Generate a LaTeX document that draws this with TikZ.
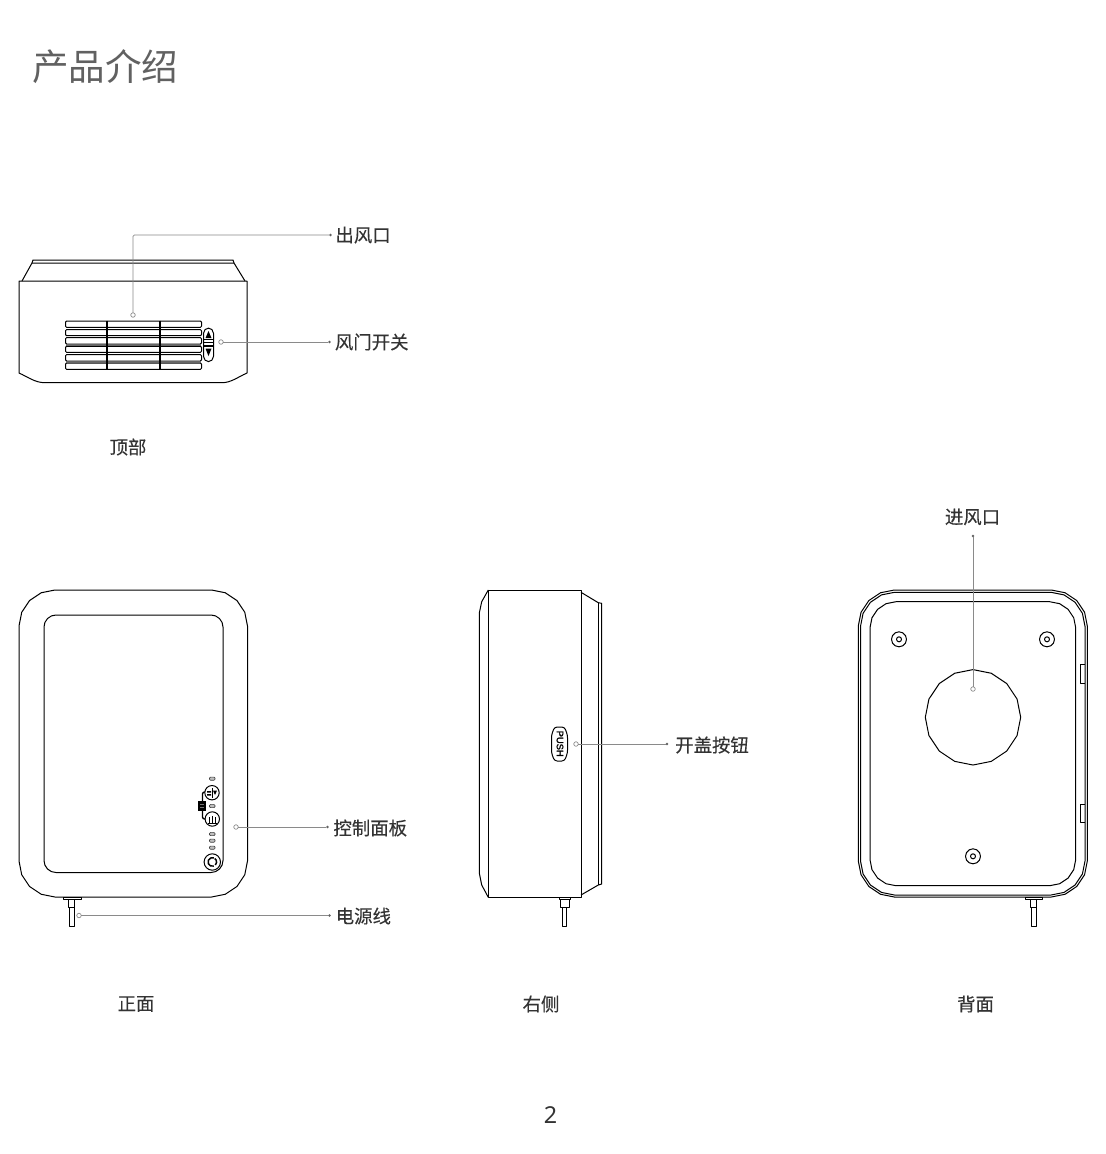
\documentclass[tikz,border=0pt]{standalone}
\usepackage{fontspec}
\setmainfont{Noto Sans}
\newfontfamily\cjk{Noto Sans CJK SC}
\newfontfamily\cjklab[FakeBold=0.25]{Noto Sans CJK SC}
\newfontfamily\pushfont[FakeBold=2]{Liberation Sans}
\definecolor{leadc}{HTML}{8A8A8A}
\definecolor{txt}{HTML}{333333}
\tikzset{
  part/.style={draw=black,line width=0.75pt,line join=round},
  leader/.style={draw=leadc,line width=0.6pt},
  ring/.style={circle,draw=leadc,fill=white,line width=0.5pt,minimum size=3.4pt,inner sep=0pt,outer sep=0pt},
  tipdot/.style={circle,fill=leadc!70!black,minimum size=2.2pt,inner sep=0pt,outer sep=0pt},
  lab/.style={font=\cjklab\fontsize{13.8}{16}\selectfont,text=txt,inner sep=0pt},
  vent/.style={part,rounded corners=0.8pt},
  led/.style={draw=black!75,fill=black!25,line width=0.5pt,rounded corners=0.8pt},
  knob/.style={draw=black,fill=white,line width=0.75pt}
}
\newcommand{\cable}[7]{%
  \draw[part] (#1,#7) rectangle (#2,#7+2.5);
  \draw[part] (#3,#7+2.5) rectangle (#4,#7+10);
  \draw[part] (#5,#7+10) -- (#5,926) -- (#6,926) -- (#6,#7+10);
}
\newcommand{\screw}[2]{%
  \draw[part] plot[samples=13,domain=0:360] ({#1+7.5*cos(\x)},{#2+7.5*sin(\x)});
  \draw[part] (#1,#2) circle (2.5);
}
% faceted rounded rectangle: x1 y1 x2 y2 r
\newcommand{\facet}[5]{%
  \draw[part] ({#1+#5},#2) -- ({#3-#5},#2)
   -- ({#3-#5+#5*sin(22.5)},{#2+#5-#5*cos(22.5)})
   -- ({#3-#5+#5*sin(45)},{#2+#5-#5*cos(45)})
   -- ({#3-#5+#5*sin(67.5)},{#2+#5-#5*cos(67.5)})
   -- (#3,{#2+#5}) -- (#3,{#4-#5})
   -- ({#3-#5+#5*sin(67.5)},{#4-#5+#5*cos(67.5)})
   -- ({#3-#5+#5*sin(45)},{#4-#5+#5*cos(45)})
   -- ({#3-#5+#5*sin(22.5)},{#4-#5+#5*cos(22.5)})
   -- ({#3-#5},#4) -- ({#1+#5},#4)
   -- ({#1+#5-#5*sin(22.5)},{#4-#5+#5*cos(22.5)})
   -- ({#1+#5-#5*sin(45)},{#4-#5+#5*cos(45)})
   -- ({#1+#5-#5*sin(67.5)},{#4-#5+#5*cos(67.5)})
   -- (#1,{#4-#5}) -- (#1,{#2+#5})
   -- ({#1+#5-#5*sin(67.5)},{#2+#5-#5*cos(67.5)})
   -- ({#1+#5-#5*sin(45)},{#2+#5-#5*cos(45)})
   -- ({#1+#5-#5*sin(22.5)},{#2+#5-#5*cos(22.5)})
   -- cycle;
}
\begin{document}
\begin{tikzpicture}[x=0.75pt,y=-0.75pt]
\useasboundingbox (0,0) rectangle (1106,1154);
\fill[white] (0,0) rectangle (1106,1154);

% ---- title and page number
\node[anchor=west,inner sep=0pt,font=\cjk\fontsize{27.4}{30}\selectfont,text=black!62] (title) at (32,67) {产品介绍};
\node[font=\fontsize{17.5}{20}\selectfont,text=txt,inner sep=0pt] (page) at (550.5,1115.5) {2};

% ---- top view
\draw[part] (19,281) -- (247,281) -- (247,373) .. controls (238,377) and (231,382.7) .. (222,382.7) -- (45,382.7) .. controls (35,382.7) and (28,377) .. (19,373) -- cycle;
\draw[part] (22,281) -- (32,263) -- (234,263) -- (245,281);
\draw[part] (32,263) -- (33,260) -- (233,260) -- (234,263);
\foreach \a/\b in {321/327.3,329.7/335.7,337.7/344,346.3/352.3,354.7/361,363/369.3}
  \draw[vent] (65.5,\a) rectangle (201.5,\b);
\draw[black!60,line width=0.9pt] (66,345) -- (201,345) (66,362) -- (201,362);
\draw[black,line width=1.3pt] (106.7,320.5) -- (106.7,369.8) (160,320.5) -- (160,369.8);
\draw[part,rounded corners=4pt] (203.5,328) rectangle (213.5,361.7);
\fill[black] (208.5,331) -- (205.5,338) -- (211.5,338) -- cycle;
\fill[black] (208.5,356) -- (205.5,348.5) -- (211.5,348.5) -- cycle;
\draw[black,line width=0.9pt] (204,339.5) -- (213,339.5) (204,342.7) -- (213,342.7) (204,346) -- (213,346);

% ---- front view
\facet{19}{590}{247.5}{897}{36}
\facet{44}{615}{223}{872.5}{12}
\cable{63.5}{81.5}{68.3}{74.7}{69.5}{74.3}{897}
% panel
\foreach \y in {778.7,806,834,840.7,847.7}
  \draw[led] (209.5,\y-1.6) rectangle (215,\y+1.6);
\draw[black,line width=1pt,rounded corners=1.5pt] (206,792) -- (202.5,792) -- (202.5,819) -- (206,819);
\fill[black] (198.3,800.7) rectangle (205.5,810.7);
\draw[black!55,line width=0.4pt] (200,804) -- (204,804) (200,807.5) -- (204,807.5);
\draw[knob] (212,792.7) circle (7.2);
\draw[knob] (212.3,819) circle (7.2);
\draw[black,line width=0.7pt] (212,788) -- (212,797.5);
\fill[black] (213,790.5) -- (217,790.5) -- (215,795) -- cycle;
\fill[black] (207.2,791) rectangle (211,792.5) (207.2,794) rectangle (211,795.5);
\draw[black,line width=0.7pt] (209.4,823) -- (209.4,816.5) (212.3,823) -- (212.3,815.5) (215.2,823) -- (215.2,816.5) (208,823.2) -- (216.6,823.2);
\draw[knob] (212.3,862) circle (8.2);
\draw[black,line width=1.1pt] (212.3,862) +(70:4.3) arc (70:290:4.3);
\draw[black,line width=1.1pt] (212.3,862) +(-55:4.3) arc (-55:45:4.3);

% ---- right view
\draw[part] (488.3,590) rectangle (581,897.3);
\draw[part] (488.3,590) -- (481.7,601.7) -- (479.3,613) -- (479.3,873) -- (481.7,885) -- (488.3,897.3);
\draw[part] (581,592.3) -- (598.3,602.7) -- (601.7,603.3) -- (601.7,884) -- (598.3,885) -- (581,895);
\draw[part] (598.3,602.7) -- (598.3,885);
\draw[part,rounded corners=2pt] (554.5,727) -- (564.5,727) -- (567.5,735) -- (567.5,753) -- (564.5,761) -- (554.5,761) -- (551.5,753) -- (551.5,735) -- cycle;
\node[rotate=-90,inner sep=0pt,text=black,font=\pushfont\fontsize{7}{8}\selectfont] (push) at (560,743.7) {PUSH};
\cable{559.5}{570}{560.7}{569.3}{562.7}{566.7}{897.3}

% ---- back view
\facet{858.3}{590}{1087.3}{897}{36}
\facet{860.5}{592.3}{1085}{895}{34}
\facet{870}{601.7}{1075.7}{885.7}{26}
\draw[part] plot[samples=17,domain=0:360] ({973+47.7*cos(\x)},{717.3+47.7*sin(\x)});
\screw{899}{639.3}
\screw{1047}{639.3}
\screw{973}{856.3}
\draw[part] (1085,664.7) -- (1080,664.7) -- (1080,683.3) -- (1085,683.3);
\draw[part] (1085,804) -- (1080,804) -- (1080,822.7) -- (1085,822.7);
\cable{1025.7}{1042.7}{1030}{1036}{1031.7}{1036}{897}

% ---- labels
\node[lab,anchor=west] (lOut) at (335.2,235) {出风口};
\node[lab,anchor=west] (lDamper) at (334.7,342) {风门开关};
\node[lab,anchor=west] (lPanel) at (333.2,828) {控制面板};
\node[lab,anchor=west] (lCord) at (335.5,916) {电源线};
\node[lab,anchor=west] (lPush) at (675,745) {开盖按钮};
\node[lab] (lIn) at (972.5,517) {进风口};
\node[lab] (cTop) at (128,447) {顶部};
\node[lab] (cFront) at (136,1004) {正面};
\node[lab] (cRight) at (541,1004) {右侧};
\node[lab] (cBack) at (975.5,1004) {背面};

% ---- leaders
\node[ring] (a1) at (133,315) {};
\node[tipdot] (b1) at (330.5,235) {};
\draw[leader,rounded corners=1pt] (a1) |- (b1);
\node[ring] (a2) at (221,342) {};
\node[tipdot] (b2) at (329.5,342) {};
\draw[leader] (a2) -- (b2);
\node[ring] (a3) at (236,827) {};
\node[tipdot] (b3) at (327.5,827) {};
\draw[leader] (a3) -- (b3);
\node[ring] (a4) at (79,915.5) {};
\node[tipdot] (b4) at (329.5,915.5) {};
\draw[leader] (a4) -- (b4);
\node[ring] (a5) at (576,744) {};
\node[tipdot] (b5) at (667,744) {};
\draw[leader] (a5) -- (b5);
\node[ring] (a6) at (973,689) {};
\node[tipdot] (b6) at (973,536) {};
\draw[leader] (a6) -- (b6);
\end{tikzpicture}
\end{document}
